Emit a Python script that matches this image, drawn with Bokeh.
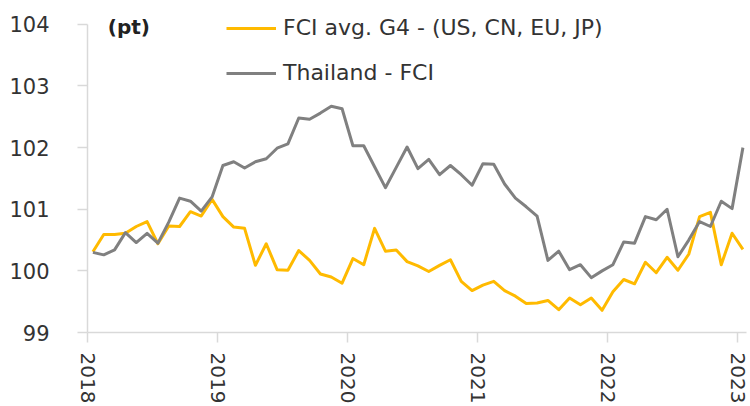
import pandas as pd
from bokeh.plotting import figure
from bokeh.models import FixedTicker, Legend, LegendItem, Label, Range1d
from bokeh.embed import file_html
from bokeh.resources import INLINE

# ---- data (monthly, Jan 2018 - Jan 2023) ----
months = pd.date_range("2018-01-01", "2023-01-01", freq="MS")

g4_fci = [100.31, 100.59, 100.59, 100.61, 100.72, 100.80, 100.44, 100.73, 100.72, 100.96,
          100.89, 101.16, 100.88, 100.71, 100.69, 100.09, 100.44, 100.02, 100.01, 100.33,
          100.17, 99.95, 99.90, 99.80, 100.20, 100.10, 100.69, 100.32, 100.34, 100.15,
          100.08, 99.99, 100.09, 100.18, 99.83, 99.68, 99.77, 99.83, 99.68, 99.59,
          99.47, 99.48, 99.52, 99.37, 99.56, 99.45, 99.56, 99.36, 99.66, 99.86,
          99.79, 100.14, 99.97, 100.22, 100.01, 100.27, 100.88, 100.95, 100.10, 100.61,
          100.35]

thailand_fci = [100.30, 100.26, 100.34, 100.62, 100.46, 100.61, 100.45, 100.79, 101.18, 101.13,
                100.97, 101.20, 101.71, 101.77, 101.67, 101.77, 101.82, 101.99, 102.06, 102.48,
                102.46, 102.56, 102.67, 102.63, 102.03, 102.03, 101.69, 101.35, 101.68, 102.01,
                101.66, 101.81, 101.56, 101.71, 101.56, 101.39, 101.74, 101.73, 101.41, 101.18,
                101.04, 100.89, 100.17, 100.32, 100.02, 100.10, 99.89, 100.00, 100.10, 100.47,
                100.45, 100.88, 100.83, 101.00, 100.23, 100.50, 100.80, 100.72, 101.13, 101.01,
                102.00]

year_ticks = [2018, 2019, 2020, 2021, 2022, 2023]
y_ticks = [99, 100, 101, 102, 103, 104]
series_names = ["FCI avg. G4 - (US, CN, EU, JP)", "Thailand - FCI"]
unit_label = "(pt)"

# decimal-year position (mid-month)
x = [d.year + (d.month - 1 + 0.5) / 12 for d in months]

FONT = "DejaVu Sans"
TXT = "#333333"
AX = "#d9d9d9"
YELLOW = "#FFBA00"
GREY = "#808080"

# frame spans the full height above the x axis so the legend is not clipped;
# the y axis line itself is bounded to 99..104
p = figure(width=750, height=406, output_backend="svg", toolbar_location=None,
           x_range=Range1d(2018, 2018 + 659 / 130), y_range=Range1d(99, 99 + 334 / 62),
           min_border_left=87, min_border_right=4, min_border_top=0, min_border_bottom=72)
p.outline_line_color = None
p.grid.visible = False
p.background_fill_color = "white"
p.border_fill_color = "white"

r1 = p.line(x, g4_fci, line_color=YELLOW, line_width=3, line_join="round")
r2 = p.line(x, thailand_fci, line_color=GREY, line_width=3, line_join="round")

for ax in (p.xaxis[0], p.yaxis[0]):
    ax.axis_line_color = AX
    ax.axis_line_width = 1.5
    ax.major_tick_line_color = AX
    ax.major_tick_line_width = 1.5
    ax.major_tick_out = 10
    ax.major_tick_in = 0
    ax.minor_tick_line_color = None
    ax.major_label_text_font = FONT
    ax.major_label_text_color = TXT

p.xaxis[0].ticker = FixedTicker(ticks=year_ticks)
p.xaxis[0].major_label_orientation = "vertical"
p.xaxis[0].major_label_standoff = 10
p.xaxis[0].major_label_text_font_size = "20px"
p.yaxis[0].ticker = FixedTicker(ticks=y_ticks)
p.yaxis[0].bounds = (99, 104)
p.yaxis[0].major_label_standoff = 28
p.yaxis[0].major_label_text_font_size = "21px"

legend = Legend(items=[LegendItem(label=series_names[0], renderers=[r1]),
                       LegendItem(label=series_names[1], renderers=[r2])],
                location=(139, 247), orientation="vertical",
                glyph_width=50, glyph_height=20, label_height=20, spacing=20,
                label_standoff=7, padding=0, margin=0,
                label_text_font=FONT, label_text_font_size="22px", label_text_color=TXT,
                border_line_color=None, background_fill_alpha=0)
p.add_layout(legend)

p.add_layout(Label(x=2018.156, y=103.95, text=unit_label, text_font=FONT,
                   text_font_size="20px", text_font_style="bold", text_color="#222222",
                   text_baseline="middle", text_align="left"))

open("out.html", "w").write(file_html(p, INLINE))
